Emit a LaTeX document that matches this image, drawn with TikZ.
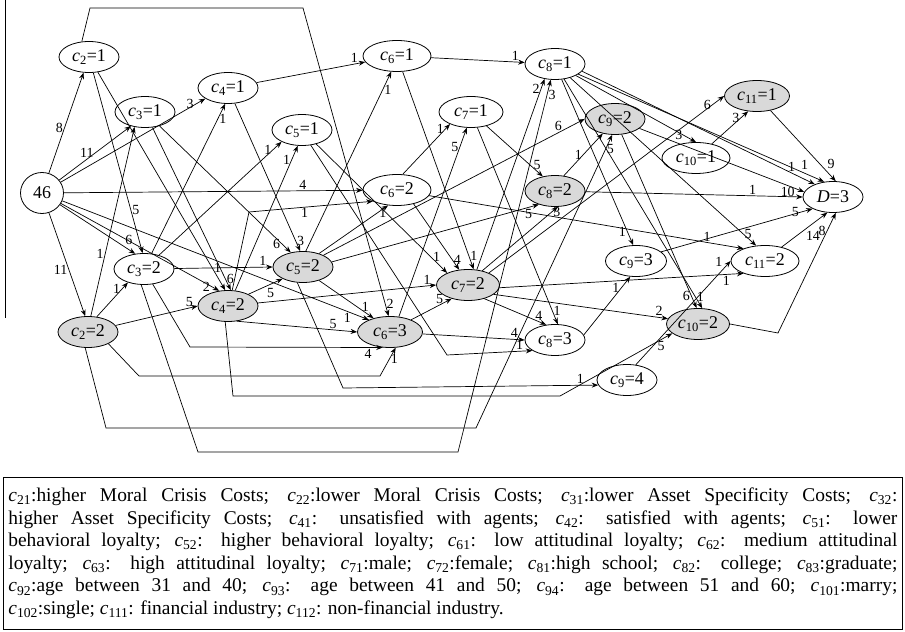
\documentclass[tikz,border=0pt]{standalone}
\usepackage{fontspec}
\setmainfont{Liberation Serif}
\usetikzlibrary{arrows.meta,shapes.geometric}
\definecolor{nodegray}{HTML}{D9D9D9}
\newcommand\lvl[2]{\textit{c}\textsubscript{#1}=#2}
\newcommand\cc[1]{\textit{c}\textsubscript{#1}}

\begin{document}
\begin{tikzpicture}[x=1bp,y=-1bp,>={Stealth[length=6.5bp,width=5bp]},
  every node/.style={font=\fontsize{18}{20}\selectfont},
  state/.style={draw,ellipse,line width=0.8bp,minimum width=60bp,minimum height=31bp,inner sep=0.5bp},
  shaded/.style={state,fill=nodegray},
  wide/.style={minimum width=68bp},
  num/.style={font=\fontsize{14}{15}\selectfont,inner sep=1.2bp},
  link/.style={->,line width=0.7bp}]
\useasboundingbox (0,0) rectangle (905,632);
\draw[line width=0.7bp] (5,0) -- (5,318);

% levels of the tree
\node[state,minimum width=43bp,minimum height=41bp] (root) at (42,193) {46};
\node[state] (c21) at (89,57) {\lvl{2}{1}};
\node[shaded] (c22) at (88,332) {\lvl{2}{2}};
\node[state] (c31) at (145,112) {\lvl{3}{1}};
\node[state] (c32) at (144,269) {\lvl{3}{2}};
\node[state] (c41) at (228,88) {\lvl{4}{1}};
\node[shaded] (c42) at (228,306) {\lvl{4}{2}};
\node[state] (c51) at (302,130) {\lvl{5}{1}};
\node[shaded] (c52) at (303,267) {\lvl{5}{2}};
\node[state,wide] (c61) at (397,56) {\lvl{6}{1}};
\node[state,wide] (c62) at (397,190) {\lvl{6}{2}};
\node[shaded,minimum width=65bp] (c63) at (390,332) {\lvl{6}{3}};
\node[state,minimum width=64bp] (c71) at (471,112) {\lvl{7}{1}};
\node[shaded,minimum width=63bp] (c72) at (468,285) {\lvl{7}{2}};
\node[state] (c81) at (555,64) {\lvl{8}{1}};
\node[shaded] (c82) at (555,191) {\lvl{8}{2}};
\node[state] (c83) at (555,340) {\lvl{8}{3}};
\node[shaded] (c92) at (615,119) {\lvl{9}{2}};
\node[state,minimum width=61bp] (c93) at (636,261) {\lvl{9}{3}};
\node[state] (c94) at (627,380) {\lvl{9}{4}};
\node[state,wide] (c101) at (696,158) {\lvl{10}{1}};
\node[shaded,minimum width=63bp] (c102) at (698,324) {\lvl{10}{2}};
\node[shaded,minimum width=65bp] (c111) at (757,96) {\lvl{11}{1}};
\node[state,wide] (c112) at (765,261) {\lvl{11}{2}};
\node[state] (dd) at (833,197) {\textit{D}=3};

% root
\draw[link] (root) -- node[num,pos=0.45,left]{8} (c21);
\draw[link] (root) -- node[num,pos=0.5,left]{11} (c31.225);
\draw[link] (root) -- node[num,pos=0.93,left]{3} (c41.205);
\draw[link] (root) -- node[num,pos=0.8,above]{4} (c62);
\draw[link] (root) -- node[num,pos=0.55,left]{11} (c22.100);
\draw[link] (root) -- node[num,pos=0.85,above right]{6} (c32.120);
\draw[link] (root) -- node[num,pos=0.95,left]{2} (c42.120);
\draw[link] (root) -- node[num,pos=0.93,below]{1} (c63.150);
% second level
\draw[link] (c21) -- node[num,pos=0.76,right]{5} (c32.95);
\draw[link] (c21) -- node[num,pos=0.9,right]{1} (c42.100);
\draw[link] (c21.115) -- (90,8) -- (303,8) -- node[num,pos=0.96,right]{2} (c63.95);
\draw[link] (c22.80) -- node[num,pos=0.33,left]{1} (c31.235);
\draw[link] (c22.60) -- node[num,pos=0.8,left]{1} (c32.220);
\draw[link] (c22) -- node[num,pos=0.9,above]{5} (c42.west);
\draw[link] (c22.-30) -- (139,376) -- (380,376) -- node[num,pos=0.6,right]{1} (c63.-70);
\draw[link] (c22.-100) -- (106,428) -- (476,428) -- node[num,pos=0.95,right]{5} (c92.-100);
% third level
\draw[link] (c31) -- node[num,pos=0.93,right]{6} (c42.80);
\draw[link] (c31) -- node[num,pos=0.93,left]{6} (c52.130);
\draw[link] (c32) -- node[num,pos=0.9,right]{1} (c41.-100);
\draw[link] (c32) -- node[num,pos=0.93,left]{1} (c51.-150);
\draw[link] (c32) -- node[num,pos=0.9,above]{1} (c52.west);
\draw[link] (c32.-60) -- (190,347) -- node[num,pos=0.95,below left]{4} (c63.-115);
\draw[link] (c32.-100) -- (198,452) -- (458,452) -- node[num,pos=0.96,right]{3} (c81.-105);
% fourth level
\draw[link] (c41) -- node[num,pos=0.9,above]{1} (c61);
\draw[link] (c41) -- node[num,pos=0.93,right]{3} (c52.100);
\draw[link] (c42.65) -- node[num,pos=0.9,left]{1} (c51.-105);
\draw[link] (c42.75) -- (249,212) -- node[num,pos=0.45,below]{1} (c62.205);
\draw[link] (c42.30) -- node[num,pos=0.5,below right]{5} (c52.210);
\draw[link] (c42.-60) -- node[num,pos=0.8,above]{5} (c63.west);
\draw[link] (c42) -- node[num,pos=0.95,above]{1} (c72.west);
\draw[link] (c42.-100) -- (233,396) -- (560,396) -- node[num,pos=0.9,below]{5} (c102.200);
% fifth level
\draw[link] (c51) -- node[num,pos=0.92,above]{1} (c72.150);
\draw[link] (c51.-60) -- (447,355) -- node[num,pos=0.85,above]{1} (c83.205);
\draw[link] (c52.80) -- node[num,pos=0.9,right]{1} (c61.-110);
\draw[link] (c52.40) -- node[num,pos=0.85,right]{1} (c62.-120);
\draw[link] (c52.30) -- node[num,pos=0.9,above]{6} (c92.west);
\draw[link] (c52.10) -- node[num,pos=0.95,below]{5} (c82.220);
\draw[link] (c52.-40) -- node[num,pos=0.85,above]{1} (c63.140);
\draw[link] (c52.-110) -- (343,388) -- node[num,pos=0.95,above left]{1} (c94.190);
% sixth level
\draw[link] (c61) -- node[num,pos=0.9,above]{1} (c81);
\draw[link] (c61) -- node[num,pos=0.93,right]{1} (c72.70);
\draw[link] (c62.70) -- node[num,pos=0.9,left]{1} (c71.210);
\draw[link] (c62.-40) -- node[num,pos=0.85,right]{4} (c72.120);
\draw[link] (c62.-10) -- node[num,pos=0.9,above left]{1} (c112.150);
\draw[link] (c63.60) -- node[num,pos=0.9,left]{5} (c71.-105);
\draw[link] (c63.30) -- node[num,pos=0.7,above]{5} (c72.-140);
\draw[link] (c63) -- node[num,pos=0.9,above]{4} (c83.west);
% seventh level
\draw[link] (c71) -- node[num,pos=0.9,above]{5} (c82.130);
\draw[link] (c71) -- node[num,pos=0.93,right]{1} (c83.80);
\draw[link] (c72.45) -- node[num,pos=0.92,right]{3} (c82.-80);
\draw[link] (c72.-40) -- node[num,pos=0.88,above]{4} (c83.120);
\draw[link] (c72.-20) -- node[num,pos=0.95,above]{2} (c102.170);
\draw[link] (c72.-5) -- node[num,pos=0.93,below]{1} (c112.-150);
\draw[link] (c72.30) -- node[num,pos=0.95,left]{6} (c111.west);
\draw[link] (c72.60) -- node[num,pos=0.95,left]{2} (c81.-125);
% eighth level
\draw[link] (c81) -- node[num,pos=0.9,left]{3} (c101.90);
\draw[link] (c81) -- node[num,pos=0.9,above right]{1} (dd.120);
\draw[link] (c81.-15) -- node[num,pos=0.9,above]{1} (dd.145);
\draw[link] (c81) -- node[num,pos=0.92,left]{1} (c93.100);
\draw[link] (c81) -- node[num,pos=0.95,right]{1} (c102.75);
\draw[link] (c81) -- node[num,pos=0.93,right]{5} (c112.120);
\draw[link] (c82.60) -- node[num,pos=0.5,left]{1} (c92.-130);
\draw[link] (c82) -- node[num,pos=0.77,above]{1} (dd.west);
\draw[link] (c83.10) -- node[num,pos=0.8,left]{1} (c93.-110);
% ninth level and after
\draw[link] (c92) -- node[num,pos=0.93,left]{6} (c102.95);
\draw[link] (c92) -- node[num,pos=0.9,below]{10} (dd.170);
\draw[link] (c93.20) -- node[num,pos=0.92,left]{5} (dd.-150);
\draw[link] (c94.60) -- node[num,pos=0.93,above left]{1} (c112.west);
\draw[link] (c101) -- node[num,pos=0.8,left]{3} (c111.240);
\draw[link] (c102.east) -- (778,333) -- node[num,pos=0.85,left]{8} (dd.-80);
\draw[link] (c111) -- node[num,pos=0.85,above right]{9} (dd.80);
\draw[link] (c112.40) -- node[num,pos=0.5,below right]{14} (dd.-110);

% legend
\node[draw,line width=0.8bp,anchor=north west,inner xsep=5bp,inner ysep=3bp,minimum height=152bp,
  text width=889bp,align=justify,font=\fontsize{19.5}{22.6}\selectfont] (legend) at (3,477)
 {\cc{21}:higher Moral Crisis Costs; \cc{22}:lower Moral Crisis Costs; \cc{31}:lower Asset Specificity Costs; \cc{32}:\linebreak
 higher Asset Specificity Costs; \cc{41}: unsatisfied with agents; \cc{42}: satisfied with agents; \cc{51}: lower\linebreak
 behavioral loyalty; \cc{52}: higher behavioral loyalty; \cc{61}: low attitudinal loyalty; \cc{62}: medium attitudinal\linebreak
 loyalty; \cc{63}: high attitudinal loyalty; \cc{71}:male; \cc{72}:female; \cc{81}:high school; \cc{82}: college; \cc{83}:graduate;\linebreak
 \cc{92}:age between 31 and 40; \cc{93}: age between 41 and 50; \cc{94}: age between 51 and 60; \cc{101}:marry;\linebreak
 \cc{102}:single; \cc{111}: financial industry; \cc{112}: non-financial industry.};
\end{tikzpicture}
\end{document}
